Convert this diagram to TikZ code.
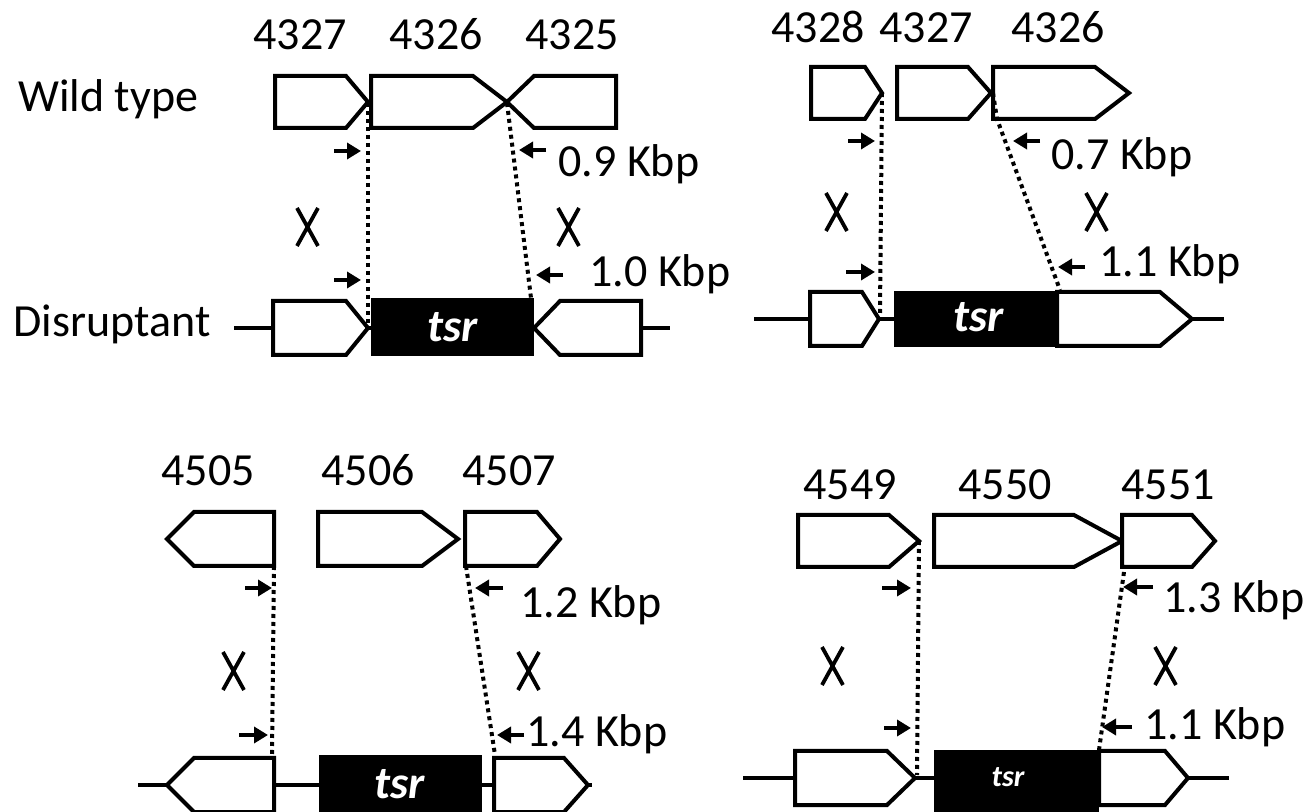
\documentclass[tikz,border=0pt]{standalone}
\usepackage{fontspec}
\setmainfont{Carlito}
\usetikzlibrary{arrows.meta}

\tikzset{dgram/.style={x=0.5pt,y=-0.5pt,font=\fontsize{23}{27}\selectfont}}
\tikzset{gene/.style={draw,line width=2pt,fill=white},
         track/.style={line width=2pt},
         guide/.style={line width=2pt,dash pattern=on 2pt off 2pt},
         primer/.style={line width=2pt,-{Triangle[length=7pt,width=8pt]}},
         xover/.style={line width=1.9pt},
         lbl/.style={inner sep=0pt,anchor=base west},
         num/.style={inner sep=0pt,anchor=base},
         tsrlbl/.style={inner sep=0pt,white,font=\fontsize{23}{27}\selectfont\bfseries\itshape}}

% genes: start, shoulder, tip, mid y, half height
\newcommand\gener[5]{\draw[gene] (#1,{#4-#5}) -- (#2,{#4-#5}) -- (#3,#4) -- (#2,{#4+#5}) -- (#1,{#4+#5}) -- cycle;}
\newcommand\genel[5]{\draw[gene] (#1,#4) -- (#2,{#4-#5}) -- (#3,{#4-#5}) -- (#3,{#4+#5}) -- (#2,{#4+#5}) -- cycle;}

\begin{document}
\begin{tikzpicture}[dgram]
  \useasboundingbox (0,0) rectangle (1308,812);

  % ---- top left: 4327-4325
  \node[lbl] (wt) at (18,112) {Wild type};
  \node[lbl] (dis) at (13,337) {Disruptant};
  \node[num] (n4327a) at (300,50) {4327};
  \node[num] (n4326a) at (436,50) {4326};
  \node[num] (n4325a) at (572,50) {4325};
  \gener{275}{346}{368}{102}{26}
  \gener{371}{473}{507}{102}{26}
  \genel{507}{534}{616}{102}{26}
  \draw[track] (234,328) -- (670,328);
  \gener{273}{346}{368}{328}{27}
  \fill (371,298) rectangle (534,356);
  \node[tsrlbl] (tsra) at (453,327) {tsr};
  \genel{534}{560}{641}{328}{27}
  \coordinate (a1) at (368,103); \coordinate (a2) at (368,325);
  \coordinate (a3) at (507,103); \coordinate (a4) at (531,298);
  \draw[guide] (a1) -- (a2);
  \draw[guide] (a3) -- (a4);
  \draw[primer] (334,151) -- (361,151);
  \draw[primer] (546,150) -- (519,150);
  \draw[primer] (334,280) -- (361,280);
  \draw[primer] (563,275) -- (536,275);
  \node[lbl] (ka1) at (558,177) {0.9 Kbp};
  \node[lbl] (ka2) at (589,287) {1.0 Kbp};

  % ---- top right: 4328-4326
  \node[num] (n4328b) at (818,43) {4328};
  \node[num] (n4327b) at (926,43) {4327};
  \node[num] (n4326b) at (1058,43) {4326};
  \gener{811}{865}{882}{93}{26}
  \gener{897}{968}{991}{93}{26}
  \gener{993}{1095}{1129}{93}{26}
  \draw[track] (754,319) -- (1224,319);
  \gener{810}{862}{879}{319}{27}
  \fill (894,291) rectangle (1057,347);
  \node[tsrlbl] (tsrb) at (979,317) {tsr};
  \gener{1057}{1160}{1192}{319}{27}
  \coordinate (b1) at (882,93); \coordinate (b2) at (880,313);
  \coordinate (b3) at (993,93); \coordinate (b4) at (1060,290);
  \draw[guide] (b1) -- (b2);
  \draw[guide] (b3) -- (997,119) -- (b4);
  \draw[primer] (848,141) -- (875,141);
  \draw[primer] (1040,141) -- (1013,141);
  \draw[primer] (846,272) -- (875,272);
  \draw[primer] (1085,267) -- (1058,267);
  \node[lbl] (kb1) at (1051,170) {0.7 Kbp};
  \node[lbl] (kb2) at (1099,277) {1.1 Kbp};

  % ---- bottom left: 4505-4507
  \node[num] (n4505) at (208,486) {4505};
  \node[num] (n4506) at (368,486) {4506};
  \node[num] (n4507) at (509,486) {4507};
  \genel{167}{194}{274}{539}{27}
  \gener{318}{422}{458}{539}{27}
  \gener{465}{537}{560}{539}{27}
  \draw[track] (138,785) -- (592,785);
  \genel{167}{194}{274}{785}{27}
  \fill (319,755) rectangle (482,816);
  \node[tsrlbl] (tsrc) at (400,784) {tsr};
  \gener{494}{564}{588}{785}{27}
  \coordinate (c1) at (274,566); \coordinate (c2) at (272,755);
  \coordinate (c3) at (466,566); \coordinate (c4) at (495,755);
  \draw[guide] (c1) -- (c2);
  \draw[guide] (c3) -- (c4);
  \draw[primer] (245,588) -- (272,588);
  \draw[primer] (503,588) -- (475,588);
  \draw[primer] (239,735) -- (268,735);
  \draw[primer] (524,735) -- (497,735);
  \node[lbl] (kc1) at (520,618) {1.2 Kbp};
  \node[lbl] (kc2) at (526,747) {1.4 Kbp};

  % ---- bottom right: 4549-4551
  \node[num] (n4549) at (850,500) {4549};
  \node[num] (n4550) at (1005,500) {4550};
  \node[num] (n4551) at (1168,500) {4551};
  \gener{798}{889}{919}{541}{26}
  \gener{934}{1074}{1122}{541}{26}
  \gener{1122}{1192}{1215}{541}{26}
  \draw[track] (743,778) -- (1229,778);
  \gener{795}{887}{915}{778}{27}
  \fill (934,750) rectangle (1099,816);
  \node[tsrlbl,font=\fontsize{15}{18}\selectfont\bfseries\itshape] (tsrd) at (1008,777) {tsr};
  \gener{1099}{1165}{1188}{778}{27}
  \coordinate (d1) at (919,541); \coordinate (d2) at (917,775);
  \coordinate (d3) at (1124,572); \coordinate (d4) at (1099,750);
  \draw[guide] (d1) -- (d2);
  \draw[guide] (d3) -- (d4);
  \draw[primer] (882,588) -- (911,588);
  \draw[primer] (1153,587) -- (1123,587);
  \draw[primer] (884,728) -- (911,728);
  \draw[primer] (1132,727) -- (1102,727);
  \node[lbl] (kd1) at (1163,613) {1.3 Kbp};
  \node[lbl] (kd2) at (1144,740) {1.1 Kbp};

  % crossover marks
  \foreach \x/\y in {297/208,558/208,826/193,1086/193,223/652,518/652,822/647,1155/647}
    \draw[xover] (\x,\y) -- ({\x+21},{\y+38}) ({\x+21},\y) -- (\x,{\y+38});
\end{tikzpicture}
\end{document}
